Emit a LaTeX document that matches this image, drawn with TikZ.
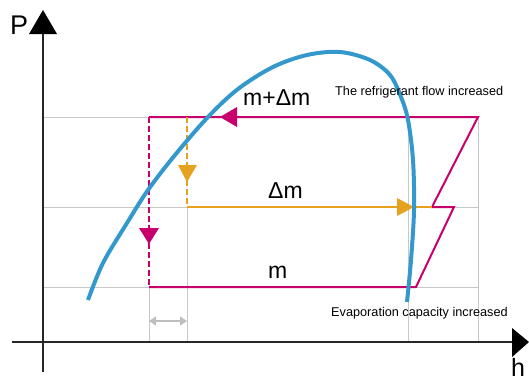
\documentclass[tikz,border=0pt]{standalone}
\usepackage{fontspec}
\setmainfont{Liberation Sans}
\usetikzlibrary{arrows.meta}
\definecolor{mag}{RGB}{200,0,110}
\definecolor{org}{RGB}{229,162,30}
\definecolor{blu}{RGB}{51,153,204}
\definecolor{gr}{RGB}{200,200,200}
\definecolor{gra}{RGB}{190,190,190}
\tikzset{
  grid line/.style={draw=gr, line width=1pt},
  axis line/.style={draw=black!85, line width=1.2pt},
  magline/.style={draw=mag, line width=2pt},
  orgline/.style={draw=org, line width=2pt},
  dashline/.style={dash pattern=on 6pt off 3pt},
  bigtxt/.style={inner sep=0pt, anchor=base west, font=\fontsize{23}{27}\selectfont},
  smalltxt/.style={inner sep=0pt, anchor=base west, font=\fontsize{12.7}{15}\selectfont},
  axtxt/.style={inner sep=0pt, anchor=base west, font=\fontsize{27}{31}\selectfont},
}
\begin{document}
\begin{tikzpicture}[x=1pt,y=-1pt]
\useasboundingbox (0,0) rectangle (529,381);
% named points
\coordinate (A) at (149,117);
\coordinate (B) at (478,117);
\coordinate (C) at (432,207);
\coordinate (D) at (454,207);
\coordinate (E) at (416,287);
\coordinate (F) at (149,287);
\coordinate (G) at (187,117);
\coordinate (H) at (187,207);
% grid
\draw[grid line] (43,117) -- (478,117);
\draw[grid line] (43,207) -- (478,207);
\draw[grid line] (43,287) -- (478,287);
\draw[grid line] (149,287) -- (149,342);
\draw[grid line] (187,207) -- (187,342);
\draw[grid line] (408,117) -- (408,342);
\draw[grid line] (478,117) -- (478,342);
% gray double arrow
\draw[draw=gra, line width=1.5pt, {Triangle[length=7pt,width=9pt]}-{Triangle[length=7pt,width=9pt]}] (149,321) -- (187,321);
% axes
\draw[axis line] (43,372) -- (43,30);
\fill[black] (29,34) -- (57,34) -- (43,10) -- cycle;
\draw[axis line] (12,342) -- (514,342);
\fill[black] (512,328) -- (512,357) -- (529,342) -- cycle;
\node[axtxt] (P) at (10,34) {P};
\node[axtxt, font=\fontsize{25}{29}\selectfont] (h) at (511,376) {h};
% magenta cycle
\draw[magline] (A) -- (B) -- (C) -- (D) -- (E) -- (F);
\draw[magline, dashline] (A) -- (F);
\fill[mag] (237,107) -- (237,127) -- (220,117) -- cycle;
\fill[mag] (139,228) -- (159,228) -- (149,244) -- cycle;
% orange
\draw[orgline] (H) -- (C);
\draw[orgline, dashline] (G) -- (H);
\fill[org] (178,165) -- (197,165) -- (187,182) -- cycle;
\fill[org] (397,198) -- (397,216) -- (414,207) -- cycle;
% blue saturation curve
\draw[blu, line width=4pt, line cap=butt] plot[smooth, tension=0.55] coordinates {
 (88,300) (103,263) (127,223) (148,190) (175,155) (208,117) (238,89) (273,67) (307,55) (340,52) (370,60) (390,75) (401,97) (408,120) (413,160) (414,210) (411,260) (407,302)};
% labels
\node[bigtxt] (l1) at (243,105) {m+Δm};
\node[bigtxt] (l2) at (268,198) {Δm};
\node[bigtxt] (l3) at (268,278) {m};
\node[smalltxt] (t1) at (335,95) {The refrigerant flow increased};
\node[smalltxt] (t2) at (331,316) {Evaporation capacity increased};
\end{tikzpicture}
\end{document}
